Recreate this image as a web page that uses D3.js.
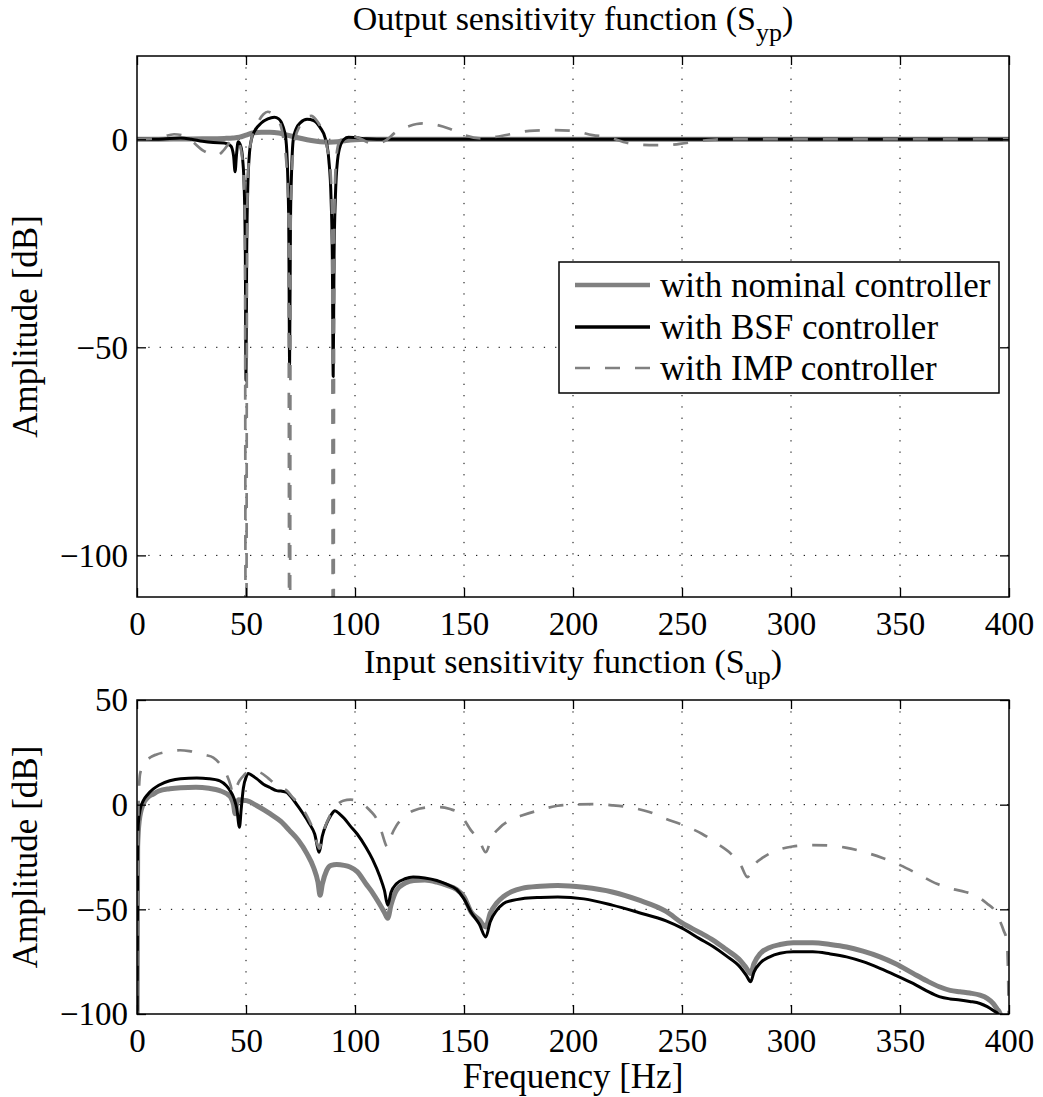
<!DOCTYPE html>
<html>
<head>
<meta charset="utf-8">
<script src="https://cdn.jsdelivr.net/npm/d3@7/dist/d3.min.js"></script>
<style>
  html, body { margin: 0; padding: 0; background: #fff; }
  svg { display: block; }
  text { font-family: "Liberation Serif", "Times New Roman", serif; fill: #000; }
</style>
</head>
<body>
<svg id="chart" width="1043" height="1097"></svg>
<script>
// ---------------- DATA ----------------
const xTicks = [0, 50, 100, 150, 200, 250, 300, 350, 400];
const yTicksTop = [-100, -50, 0];
const yTicksBottom = [-100, -50, 0, 50];
const seriesNames = ["with nominal controller", "with BSF controller", "with IMP controller"];

// Output sensitivity S_yp
const sypNominalF = [0, 10, 20, 30, 40, 44, 47, 50, 53, 57, 61, 65, 68, 72, 76, 80, 84, 88, 92, 96, 100, 105, 110, 120, 200, 300, 400];
const sypNominalDb = [0, 0, 0.05, 0.1, 0.2, 0.3, 0.5, 1.0, 1.5, 1.7, 1.7, 1.5, 1.1, 0.6, 0.1, -0.3, -0.6, -0.7, -0.6, -0.3, -0.1, 0, 0, 0, 0, 0, 0];

const sypBsfF = [0, 10, 20, 25, 30, 35, 40, 43, 44.3, 45, 45.6, 46.4, 47.5, 48.5, 49.2, 49.7, 50, 50.3, 50.8, 51.5, 52.5, 54, 57, 60, 63, 65, 67, 68.3, 69.1, 69.6, 70, 70.4, 70.9, 71.7, 73, 75, 78, 81, 84, 86.5, 88, 89, 89.6, 90, 90.4, 91, 92, 93.5, 95, 97, 100, 105, 110, 400];
const sypBsfDb = [0, 0, 0.3, 0, -0.5, -0.8, -0.9, -1.6, -4, -7.8, -4, -0.6, -1.5, -5, -12, -28, -58, -28, -12, -4, 0, 2, 3.9, 4.9, 5.3, 4.9, 3, 0, -8, -20, -54, -20, -8, 0, 2.5, 4, 4.8, 4.5, 2.8, 0, -5, -14, -28, -57, -28, -14, -5, -1.2, 0, 0.5, 0.4, 0.1, 0, 0];

const sypImpF = [0, 10, 17, 22, 26, 30, 34, 37, 40, 43, 45.5, 47.5, 48.8, 49.5, 50, 50.5, 51.2, 52.5, 55, 58, 60, 62, 65, 67.2, 68.8, 69.5, 70, 70.5, 71.2, 72.5, 75, 78, 80, 82, 85, 87.2, 88.8, 89.5, 90, 90.5, 91.2, 92.5, 95, 98, 102, 108, 113, 119, 125, 131, 137, 143, 150, 158, 165, 171, 180, 190, 200, 209, 216, 225, 235, 243, 252, 260, 268, 400];
const sypImpDb = [0, 0.3, 1.2, 0.8, -0.8, -2.6, -3.6, -3.8, -2.5, -0.5, 0, -2, -8, -20, -200, -20, -6, 0, 3.5, 6, 6.6, 6.2, 4.5, 0, -8, -20, -200, -20, -6, 0, 3.5, 5.4, 5.6, 4.8, 2, -2, -8, -20, -200, -20, -6, -1, 0.6, 0.9, 0.2, -1, -0.6, 1.8, 3.2, 3.8, 3.5, 2.6, 1, 0.2, 0.6, 1.2, 2, 2.2, 2, 1, 0.5, -0.9, -1.4, -1.4, -0.9, -0.3, 0, 0];

// Input sensitivity S_up
const supNominalF = [0, 0.3, 1, 2.9, 5, 7.5, 10, 15, 20, 27, 33, 38, 41, 43, 44.3, 45, 45.7, 46.5, 48, 50.3, 55, 61, 66, 70, 74, 78, 81, 83, 84, 85, 87, 89, 91.6, 95, 97.7, 101, 105, 108, 111, 113.5, 115, 116.5, 119, 123, 127, 132, 137.5, 142, 146.6, 150, 153.3, 157, 160, 162, 165, 168, 172, 176.5, 185, 193, 205, 218, 230, 242.7, 250, 258, 264.4, 270, 276.6, 279.5, 281.5, 283, 286, 290, 295, 301, 310, 318, 325.5, 333, 340.8, 348, 356, 362, 368, 373, 377.5, 382, 386.7, 390, 392.8, 394.5, 396, 397];
const supNominalDb = [-120, -20, -8, 0.4, 3.5, 5.1, 6.5, 7.6, 8.1, 8.3, 7.8, 6.7, 5.3, 3.5, 0, -4.3, 0, 2.3, 2.2, 1.9, -0.5, -4.3, -8, -12.4, -17, -23.5, -30, -37, -43.3, -38, -31.4, -29, -28.6, -29, -29.8, -32, -37.8, -42, -47, -51.5, -54.3, -48, -41, -37.5, -36.2, -36, -37, -38.5, -40.5, -44, -51.3, -55, -58.4, -52, -47, -44, -41.5, -40, -39, -38.6, -39.5, -41.7, -45.5, -51, -56.5, -61, -64.8, -69, -74.3, -78, -80.6, -76, -71, -68.3, -66.8, -66, -66, -66.8, -68, -70, -72.7, -76, -80.6, -84, -87, -88.7, -89.4, -90, -91, -92.5, -95, -97.5, -100, -110];

const supBsfF = [0, 0.3, 0.6, 1.5, 2.9, 5, 7.5, 10, 15, 20, 27.4, 33, 38, 41, 42.7, 44.5, 45.8, 47, 47.8, 48.8, 50, 51, 53, 55, 58, 61, 64, 66, 68.7, 70, 73, 76, 79, 81.5, 83.6, 85, 87, 89, 90.8, 93, 95, 97.7, 101, 105, 108, 111.5, 113.5, 115, 116.5, 119, 123, 126.7, 132, 137.5, 142, 146.6, 150, 153.3, 157, 160, 162, 165, 168, 172, 176.5, 185, 193, 205, 218, 230, 242.7, 250, 258, 264.4, 270, 276.6, 279.5, 281.5, 283, 286, 290, 295, 301, 310, 318, 325.5, 333, 340.8, 348, 356, 362, 368, 373, 377.5, 382, 386.7, 390, 393, 395, 396];
const supBsfDb = [-120, -25, -9.2, -2, 1.9, 5, 7.5, 9.3, 11.4, 12.4, 12.7, 12.4, 11.4, 9, 6.7, 3, -2, -10.8, -2, 8, 13, 14.9, 13.8, 12.3, 9.8, 8.2, 6.7, 6.5, 5.9, 4.5, 0.5, -4, -9, -14, -22.7, -15, -9, -5, -2.9, -4.5, -6.5, -10, -14, -20.3, -26, -34.6, -41, -48, -42, -37.8, -35.4, -34.6, -35, -36.2, -38, -40.5, -45, -51.5, -57, -63.2, -56, -50.5, -47.3, -45.8, -44.9, -44.3, -44.1, -45, -48, -51.5, -55.5, -59, -64, -67.9, -72, -77.5, -81.5, -84.6, -80, -75.5, -72.8, -71, -70.3, -70.3, -71.3, -72.7, -75, -78.2, -81.5, -85.4, -88.8, -91.7, -92.8, -93.3, -94, -95, -96.5, -98.5, -100, -110];

const supImpF = [0, 0.3, 0.7, 1.4, 3, 6, 9, 12, 16, 19.7, 24, 27.4, 31, 35, 38, 41, 43, 44, 45, 47, 49, 52, 56.4, 60, 62.5, 66, 68.7, 71, 74.8, 78, 81, 83.6, 85.5, 88.5, 91.5, 94.6, 98, 100.8, 104, 107, 110, 112, 115, 117, 119, 123, 126.7, 134, 139, 143.6, 148, 153.3, 157, 160, 162.5, 166.6, 171, 176.5, 185, 193, 200, 209.6, 218, 226, 235, 242.7, 251, 259.3, 266, 272.5, 277, 280, 283, 287.4, 293, 300.7, 310, 317.2, 325, 333.8, 342, 350.3, 358, 366.9, 373, 380, 385, 390, 393, 395, 397.5, 399, 399.8, 400];
const supImpDb = [-120, -40, 0, 14.6, 19, 22.5, 24, 24.9, 25.7, 26, 25.6, 24.9, 23.8, 22.5, 19.5, 14.6, 9, 5, 7, 11.4, 14, 16.2, 15.4, 12.8, 10.6, 8, 6.7, 4, -0.5, -5.5, -12.4, -21, -13, -5.2, -0.5, 1.9, 2.4, 1.9, 0, -2.9, -7, -12.4, -20.3, -14, -10, -5.5, -2.9, -1.3, -1.2, -2.1, -4.3, -12.4, -17, -22.7, -16, -10.8, -7.5, -5.2, -2.5, -0.5, 0, 0.3, -0.3, -1.3, -3.5, -6.8, -10, -14, -18.5, -23.5, -29, -34.6, -29, -25.1, -22, -20, -19.3, -19.5, -20.5, -22.7, -25.5, -29, -33, -37.8, -40, -41.7, -43.5, -47.3, -50, -53.7, -60, -65, -95, -200];

// ---------------- DRAW ----------------
const svg = d3.select("#chart");
svg.append("rect").attr("width", 1043).attr("height", 1097).attr("fill", "#fff");

const GREY = "#808080";
const styles = [
  { stroke: GREY, width: 5, dash: null },
  { stroke: "#000", width: 3, dash: null },
  { stroke: GREY, width: 2.7, dash: "15,15" }
];

function drawPanel(cfg) {
  const left = cfg.left, right = cfg.right, pTop = cfg.pTop, pBottom = cfg.pBottom;
  const yDomain = cfg.yDomain, yTicks = cfg.yTicks, series = cfg.series, id = cfg.id;
  const x = d3.scaleLinear().domain([0, 400]).range([left, right]);
  const y = d3.scaleLinear().domain(yDomain).range([pBottom, pTop]);
  const g = svg.append("g");

  // grid
  const grid = g.append("g").attr("stroke", "#000").attr("stroke-width", 1).attr("stroke-dasharray", "1.3,10");
  xTicks.forEach(t => {
    if (t === 0 || t === 400) return;
    grid.append("line").attr("x1", x(t)).attr("x2", x(t)).attr("y1", pTop).attr("y2", pBottom);
  });
  yTicks.forEach(t => {
    if (t === yDomain[0] || t === yDomain[1]) return;
    grid.append("line").attr("x1", left).attr("x2", right).attr("y1", y(t)).attr("y2", y(t));
  });

  // clip
  svg.append("clipPath").attr("id", id).append("rect")
    .attr("x", left).attr("y", pTop).attr("width", right - left).attr("height", pBottom - pTop);

  const line = d3.line().x(d => x(d[0])).y(d => y(d[1])).curve(d3.curveMonotoneX);
  const lg = g.append("g").attr("clip-path", `url(#${id})`);
  series.forEach((s, i) => {
    const pts = s.f.map((f, k) => [f, s.db[k]]);
    lg.append("path").datum(pts)
      .attr("d", line)
      .attr("fill", "none")
      .attr("stroke", styles[i].stroke)
      .attr("stroke-width", styles[i].width)
      .attr("stroke-linejoin", "round")
      .attr("stroke-dasharray", styles[i].dash);
  });

  // axes
  const fontSize = 33;
  const ax = g.append("g").attr("transform", `translate(0,${pBottom})`)
    .call(d3.axisBottom(x).tickValues(xTicks).tickSizeInner(-9).tickSizeOuter(0).tickPadding(15).tickFormat(d3.format("d")));
  const axT = g.append("g").attr("transform", `translate(0,${pTop})`)
    .call(d3.axisTop(x).tickValues(xTicks).tickSizeInner(-9).tickSizeOuter(0).tickFormat(""));
  const ay = g.append("g").attr("transform", `translate(${left},0)`)
    .call(d3.axisLeft(y).tickValues(yTicks).tickSizeInner(-9).tickSizeOuter(0).tickPadding(9).tickFormat(d3.format("d")));
  const ayR = g.append("g").attr("transform", `translate(${right},0)`)
    .call(d3.axisRight(y).tickValues(yTicks).tickSizeInner(-9).tickSizeOuter(0).tickFormat(""));
  [ax, axT, ay, ayR].forEach(a => {
    a.select(".domain").remove();
    a.selectAll(".tick line").attr("stroke", "#000").attr("stroke-width", 1.3);
    a.selectAll("text").attr("font-size", fontSize)
      .attr("font-family", "'Liberation Serif', 'Times New Roman', serif").attr("fill", "#000");
  });
  ax.selectAll("text").attr("dy", "0.71em");
  ay.selectAll("text").attr("dy", "0.33em");

  g.append("rect").attr("x", left).attr("y", pTop).attr("width", right - left).attr("height", pBottom - pTop)
    .attr("fill", "none").attr("stroke", "#000").attr("stroke-width", 1.5);

  // y label
  g.append("text")
    .attr("transform", `translate(37,${(pTop + pBottom) / 2}) rotate(-90)`)
    .attr("text-anchor", "middle").attr("font-size", 35)
    .text("Amplitude [dB]");

  // title
  const t = g.append("text").attr("x", (left + right) / 2).attr("y", cfg.titleY)
    .attr("text-anchor", "middle").attr("font-size", 34);
  t.append("tspan").text(cfg.title);
  t.append("tspan").attr("font-size", 26).attr("dy", 11).text(cfg.sub);
  t.append("tspan").attr("dy", -11).text(")");

  return { x, y, g };
}

drawPanel({
  id: "clipTop", left: 137, right: 1009, pTop: 56, pBottom: 597,
  yDomain: [-110, 20], yTicks: yTicksTop,
  title: "Output sensitivity function (S", sub: "yp", titleY: 30,
  series: [
    { f: sypNominalF, db: sypNominalDb },
    { f: sypBsfF, db: sypBsfDb },
    { f: sypImpF, db: sypImpDb }
  ]
});

drawPanel({
  id: "clipBot", left: 137, right: 1009, pTop: 700, pBottom: 1014,
  yDomain: [-100, 50], yTicks: yTicksBottom,
  title: "Input sensitivity function (S", sub: "up", titleY: 673,
  series: [
    { f: supNominalF, db: supNominalDb },
    { f: supBsfF, db: supBsfDb },
    { f: supImpF, db: supImpDb }
  ]
});

// x label
svg.append("text").attr("x", 573).attr("y", 1088).attr("text-anchor", "middle")
  .attr("font-size", 35).text("Frequency [Hz]");

// legend
const lgX = 559, lgY = 262, lgW = 440, lgH = 131;
const leg = svg.append("g");
leg.append("rect").attr("x", lgX).attr("y", lgY).attr("width", lgW).attr("height", lgH)
  .attr("fill", "#fff").attr("stroke", "#000").attr("stroke-width", 1.5);
const rowY = [285, 327, 368];
seriesNames.forEach((name, i) => {
  leg.append("line").attr("x1", 575).attr("x2", 650).attr("y1", rowY[i]).attr("y2", rowY[i])
    .attr("stroke", styles[i].stroke).attr("stroke-width", i === 0 ? 4.5 : (i === 1 ? 3.3 : 2.7))
    .attr("stroke-dasharray", styles[i].dash);
  leg.append("text").attr("x", 660).attr("y", rowY[i] + 12).attr("font-size", 35).text(name);
});
</script>
</body>
</html>
